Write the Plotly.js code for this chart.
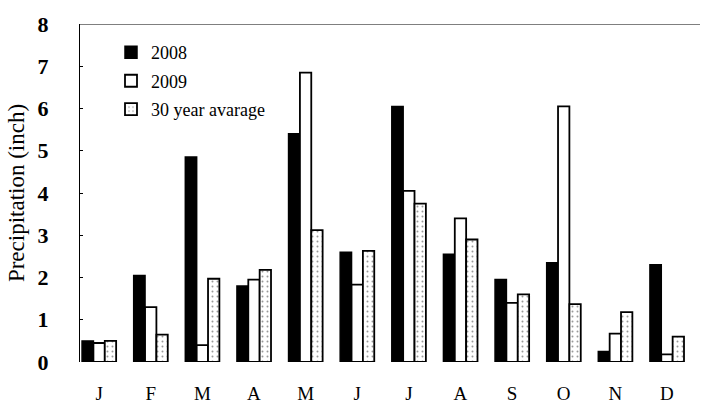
<!DOCTYPE html>
<html>
<head>
<meta charset="utf-8">
<script src="https://cdn.plot.ly/plotly-3.0.1.min.js"></script>
<style>html,body{margin:0;padding:0;background:#fff}#chart{width:704px;height:417px}</style>
</head>
<body>
<div id="chart"></div>
<script>
const months = ["J","F","M","A","M","J","J","A","S","O","N","D"];
const monthIds = [0,1,2,3,4,5,6,7,8,9,10,11];
const p2008 = [0.5, 2.05, 4.85, 1.8, 5.4, 2.6, 6.05, 2.55, 1.95, 2.35, 0.25, 2.3];
const p2009 = [0.45, 1.3, 0.4, 1.95, 6.85, 1.83, 4.05, 3.4, 1.4, 6.05, 0.67, 0.18];
const pAvg  = [0.5, 0.65, 1.97, 2.18, 3.12, 2.63, 3.75, 2.9, 1.6, 1.37, 1.18, 0.6];

const serif = "'Liberation Serif', 'Times New Roman', serif";
const data = [
  {type:"bar", name:"2008", legendgroup:"a", x:monthIds, y:p2008,
   marker:{color:"#000", line:{color:"#000", width:1.5}}},
  {type:"bar", name:"2009", legendgroup:"b", x:monthIds, y:p2009,
   marker:{color:"#fff", line:{color:"#000", width:1.8}}},
  {type:"bar", name:"30 year avarage", legendgroup:"c", x:monthIds, y:pAvg,
   marker:{color:"#fff", line:{color:"#000", width:1.8},
     pattern:{shape:".", fgcolor:"#999", bgcolor:"#fff", size:5, solidity:0.12}}}
];
const layout = {
  width:704, height:417,
  font:{family:serif, color:"#000"},
  margin:{l:80, r:4, t:24, b:55},
  paper_bgcolor:"#fff", plot_bgcolor:"#fff",
  barmode:"group", bargap:0.34, bargroupgap:0,
  showlegend:true,
  legend:{x:0.05, y:0.97, xanchor:"left", yanchor:"top",
    font:{family:serif, size:18, color:"#000"}, bgcolor:"rgba(0,0,0,0)",
    tracegroupgap:2, itemwidth:30},
  xaxis:{range:[-0.37, 11.64], tickmode:"array", tickvals:monthIds, ticktext:months,
    showline:false, showgrid:false, zeroline:false, ticks:"", ticklabelstandoff:18,
    tickfont:{family:serif, size:19, color:"#000"}},
  yaxis:{range:[0,8], dtick:1, showline:true, linecolor:"#000", linewidth:1,
    ticks:"inside", ticklen:3, tickcolor:"#000", showgrid:false, zeroline:false,
    ticklabelstandoff:26,
    tickfont:{family:serif, size:22, color:"#000", weight:"bold"},
    title:{text:"Precipitation (inch)", font:{family:serif, size:23, color:"#000"}, standoff:6}},
  shapes:[{type:"line", xref:"paper", yref:"y", x0:0, x1:1, y0:8, y1:8,
    line:{color:"#000", width:1}}]
};
Plotly.newPlot("chart", data, layout, {displayModeBar:false, staticPlot:true});
</script>
</body>
</html>
